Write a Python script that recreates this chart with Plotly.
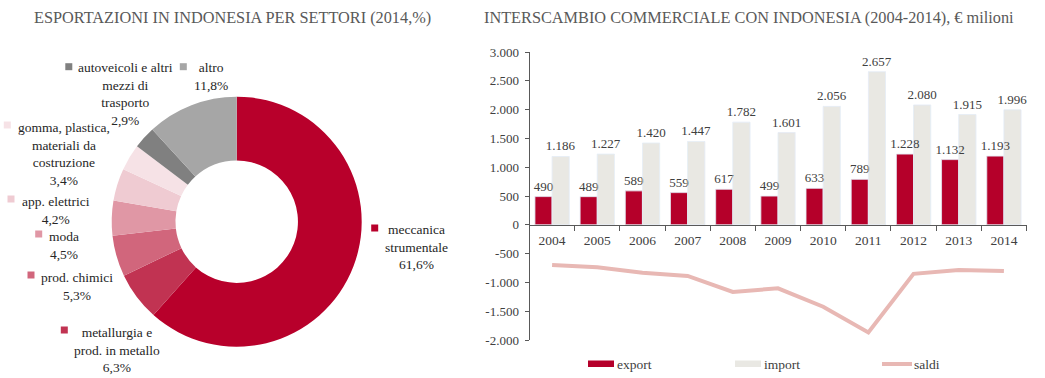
import plotly.graph_objects as go

W, H = 1045, 378
FONT = "Liberation Serif"
TXT = "#404040"
TITLE = "#595959"

# ---------------- data: left donut ----------------
sector_names = ["meccanica strumentale", "metallurgia e prod. in metallo", "prod. chimici",
                "moda", "app. elettrici", "gomma, plastica, materiali da costruzione",
                "autoveicoli e altri mezzi di trasporto", "altro"]
sector_wrapped = ["meccanica<br>strumentale", "metallurgia e<br>prod. in metallo", "prod. chimici",
                  "moda", "app. elettrici", "gomma, plastica,<br>materiali da<br>costruzione",
                  "autoveicoli e altri<br>mezzi di<br>trasporto", "altro"]
sector_shares = [61.6, 6.3, 5.3, 4.5, 4.2, 3.4, 2.9, 11.8]
sector_colors = ["#B8002B", "#C13352", "#D1667C", "#E097A5", "#EFCBD2", "#F6E2E6", "#808080", "#A6A6A6"]

# ---------------- data: right bar/line chart ----------------
years = ["2004", "2005", "2006", "2007", "2008", "2009", "2010", "2011", "2012", "2013", "2014"]
export_vals = [490, 489, 589, 559, 617, 499, 633, 789, 1228, 1132, 1193]
import_vals = [1186, 1227, 1420, 1447, 1782, 1601, 2056, 2657, 2080, 1915, 1996]
saldi_vals = [-696, -738, -831, -888, -1165, -1102, -1423, -1868, -852, -783, -803]
y_tick_vals = [3000, 2500, 2000, 1500, 1000, 500, 0, -500, -1000, -1500, -2000]
y_tick_text = ["3.000", "2.500", "2.000", "1.500", "1.000", "500", "0", "-500", "-1.000", "-1.500", "-2.000"]
series_names = ["export", "import", "saldi"]
series_colors = ["#B5002A", "#E9E8E3", "#E8B8B4"]


def px(x):
    return x / W


def py(y):
    return 1 - y / H


def it_num(v):
    return f"{v:,}".replace(",", ".")


def it_pct(v):
    return f"{v:.1f}".replace(".", ",") + "%"


fig = go.Figure()

# donut: centre (236.7, 221.7) px, radius 125 px
cx, cy, r = 236.7, 221.7, 125
fig.add_trace(go.Pie(
    labels=sector_names, values=sector_shares, sort=False, direction="clockwise", rotation=0,
    hole=0.49, marker=dict(colors=sector_colors, line=dict(width=0)),
    textinfo="none", showlegend=False,
    domain=dict(x=[px(cx - r), px(cx + r)], y=[py(cy + r), py(cy - r)]),
))

# bars (drawn first), then transparent twin bars carrying the value labels on top
bar_font = dict(family=FONT, size=13, color=TXT)
for vals, nm, col, grp in [(export_vals, series_names[0], series_colors[0], "e"),
                           (import_vals, series_names[1], series_colors[1], "i")]:
    fig.add_trace(go.Bar(x=years, y=vals, name=nm, marker_color=col, offsetgroup=grp,
                         xaxis="x", yaxis="y"))
for vals, nm, grp in [(export_vals, series_names[0], "e"), (import_vals, series_names[1], "i")]:
    fig.add_trace(go.Bar(x=years, y=vals, name=nm, marker_color="rgba(0,0,0,0)", offsetgroup=grp,
                         text=[it_num(v) for v in vals], textposition="outside",
                         constraintext="none", cliponaxis=False, textfont=bar_font,
                         hoverinfo="skip", xaxis="x", yaxis="y"))
fig.add_trace(go.Scatter(x=years, y=saldi_vals, name=series_names[2], mode="lines",
                         line=dict(color=series_colors[2], width=4), xaxis="x", yaxis="y"))

# axes geometry (px)
ax_l, ax_r = 529.5, 1026.5
y_top, y_bot = 52, 340
ymin, ymax = -2000, 3000
dom_y = [py(y_bot), py(y_top)]
zero_pos = dom_y[0] + (0 - ymin) / (ymax - ymin) * (dom_y[1] - dom_y[0])

fig.update_layout(
    width=W, height=H, margin=dict(l=0, r=0, t=0, b=0, pad=0, autoexpand=False),
    paper_bgcolor="white", plot_bgcolor="white",
    showlegend=False, barmode="group", bargap=0.24, bargroupgap=0,
    font=dict(family=FONT, size=13, color=TXT),
    xaxis=dict(domain=[px(ax_l), px(ax_r)], anchor="free", position=zero_pos,
               type="category", showline=True, linecolor="#595959", linewidth=1,
               ticks="outside", ticklen=5, tickcolor="#595959", tickson="boundaries",
               ticklabelstandoff=3,
               showgrid=False, zeroline=False, tickfont=dict(family=FONT, size=13.5, color=TXT)),
    yaxis=dict(domain=dom_y, range=[ymin, ymax], tickvals=y_tick_vals, ticktext=y_tick_text,
               showline=True, linecolor="#595959", linewidth=1, ticks="outside", ticklen=4,
               tickcolor="#595959", showgrid=False, zeroline=False, ticklabelstandoff=3,
               tickfont=dict(family=FONT, size=13, color=TXT)),
)

annotations = [
    dict(text="ESPORTAZIONI IN INDONESIA PER SETTORI (2014,%)", x=px(232), y=py(17),
         xanchor="center", yanchor="middle", font=dict(size=16.3, color=TITLE)),
    dict(text="INTERSCAMBIO COMMERCIALE CON INDONESIA (2004-2014), € milioni", x=px(482), y=py(17),
         xanchor="left", yanchor="middle", font=dict(size=16.3, color=TITLE)),
]

# donut labels: (text centre x, first-line centre y, square centre x, square centre y) in px
label_pos = [(416, 228, 374.7, 228), (116.6, 331, 64.3, 330), (76.8, 276, 31, 275),
             (64.2, 235, 38.7, 234), (55.5, 200, 11, 199), (63.7, 126, 7.3, 125),
             (125.8, 66.7, 68.8, 66.7), (210.7, 66.7, 183.3, 66.7)]
shapes = []
for name, share, col, (tx, ty, sx, sy) in zip(sector_wrapped, sector_shares, sector_colors, label_pos):
    annotations.append(dict(text=f"{name}<br>{it_pct(share)}", x=px(tx), y=py(ty - 8.5),
                            xanchor="center", yanchor="top", align="center", showarrow=False,
                            font=dict(size=13.5, color="#262626")))
    shapes.append(dict(type="rect", xref="paper", yref="paper",
                       x0=px(sx - 3.5), x1=px(sx + 3.5), y0=py(sy + 3.5), y1=py(sy - 3.5),
                       fillcolor=col, line=dict(width=0)))

# custom legend for right chart
leg_x = [588, 735, 882]
for i, (nm, col) in enumerate(zip(series_names, series_colors)):
    x0 = leg_x[i]
    if i < 2:
        shapes.append(dict(type="rect", xref="paper", yref="paper",
                           x0=px(x0), x1=px(x0 + 26), y0=py(367), y1=py(360.5),
                           fillcolor=col, line=dict(width=0)))
    else:
        shapes.append(dict(type="line", xref="paper", yref="paper",
                           x0=px(x0), x1=px(x0 + 30), y0=py(364), y1=py(364),
                           line=dict(color=col, width=4)))
    annotations.append(dict(text=nm, x=px(x0 + (27 if i < 2 else 30)), y=py(364), xanchor="left",
                            yanchor="middle", showarrow=False, font=dict(size=13.5, color=TXT)))

for a in annotations:
    a.setdefault("showarrow", False)
    a["xref"] = "paper"
    a["yref"] = "paper"
fig.update_layout(annotations=annotations, shapes=shapes)

fig.write_html("out.html", config={"displayModeBar": False},
               post_script="document.body.style.margin='0px';document.body.style.overflow='hidden';")
